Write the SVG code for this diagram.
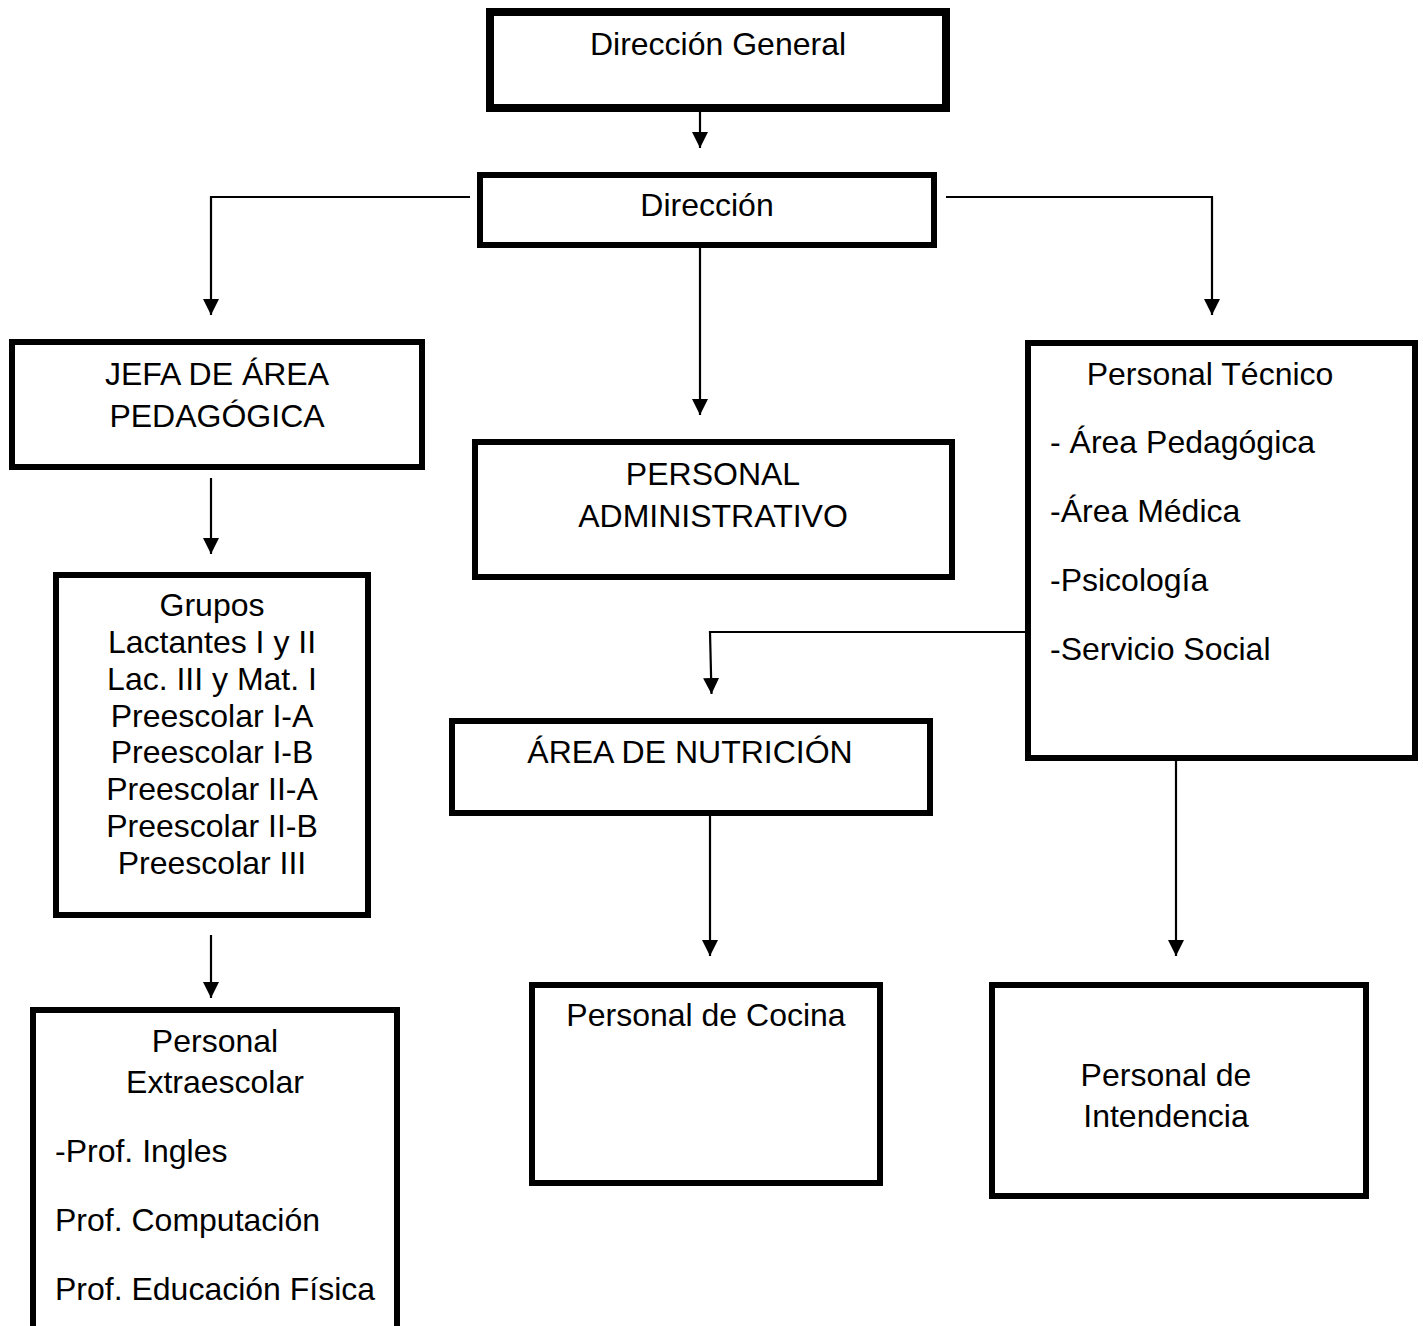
<svg xmlns="http://www.w3.org/2000/svg" width="1423" height="1326" viewBox="0 0 1423 1326">
<style>
.box{fill:#fff;stroke:#000;stroke-width:6}
.thick{stroke-width:8}
.t{font-family:"Liberation Sans",Arial,sans-serif;font-size:32px;fill:#000}
.c{text-anchor:middle}
.conn{fill:none;stroke:#000;stroke-width:2.2}
</style>
<defs>
<marker id="ah" markerUnits="userSpaceOnUse" markerWidth="16" markerHeight="16" refX="16" refY="8" orient="auto">
<path d="M0,0 L16,8 L0,16 z" fill="#000"/>
</marker>
</defs>
<rect width="1423" height="1326" fill="#fff"/>
<g id="connectors">
<path class="conn" d="M700,112 V148" marker-end="url(#ah)"/>
<path class="conn" d="M470,197 H211 V315" marker-end="url(#ah)"/>
<path class="conn" d="M946,197 H1212 V315" marker-end="url(#ah)"/>
<path class="conn" d="M700,248 V415" marker-end="url(#ah)"/>
<path class="conn" d="M211,478 V554" marker-end="url(#ah)"/>
<path class="conn" d="M211,935 V998" marker-end="url(#ah)"/>
<path class="conn" d="M1025,632 H710 L711.5,694" marker-end="url(#ah)"/>
<path class="conn" d="M710,816 V956" marker-end="url(#ah)"/>
<path class="conn" d="M1176,760 V956" marker-end="url(#ah)"/>
</g>
<g id="direccion-general">
<rect class="box thick" x="490" y="12" width="456" height="96"/>
<text class="t c" x="718" y="55">Dirección General</text>
</g>
<g id="direccion">
<rect class="box" x="480" y="175" width="454" height="70"/>
<text class="t c" x="707" y="216">Dirección</text>
</g>
<g id="jefa-area-pedagogica">
<rect class="box" x="12" y="342" width="410" height="125"/>
<text class="t c" x="217" y="385">JEFA DE ÁREA</text>
<text class="t c" x="217" y="427">PEDAGÓGICA</text>
</g>
<g id="personal-administrativo">
<rect class="box" x="475" y="442" width="477" height="135"/>
<text class="t c" x="713" y="485">PERSONAL</text>
<text class="t c" x="713" y="527">ADMINISTRATIVO</text>
</g>
<g id="personal-tecnico">
<rect class="box" x="1028" y="343" width="387" height="415"/>
<text class="t c" x="1210" y="385">Personal Técnico</text>
<text class="t" x="1050" y="453">- Área Pedagógica</text>
<text class="t" x="1050" y="522">-Área Médica</text>
<text class="t" x="1050" y="591">-Psicología</text>
<text class="t" x="1050" y="660">-Servicio Social</text>
</g>
<g id="grupos">
<rect class="box" x="56" y="575" width="312" height="340"/>
<text class="t c" x="212" y="616">Grupos</text>
<text class="t c" x="212" y="653">Lactantes I y II</text>
<text class="t c" x="212" y="690">Lac. III y Mat. I</text>
<text class="t c" x="212" y="727">Preescolar I-A</text>
<text class="t c" x="212" y="763">Preescolar I-B</text>
<text class="t c" x="212" y="800">Preescolar II-A</text>
<text class="t c" x="212" y="837">Preescolar II-B</text>
<text class="t c" x="212" y="874">Preescolar III</text>
</g>
<g id="area-nutricion">
<rect class="box" x="452" y="721" width="478" height="92"/>
<text class="t c" x="690" y="763">ÁREA DE NUTRICIÓN</text>
</g>
<g id="personal-cocina">
<rect class="box" x="532" y="985" width="348" height="198"/>
<text class="t c" x="706" y="1026">Personal de Cocina</text>
</g>
<g id="personal-intendencia">
<rect class="box" x="992" y="985" width="374" height="211"/>
<text class="t c" x="1166" y="1086">Personal de</text>
<text class="t c" x="1166" y="1127">Intendencia</text>
</g>
<g id="personal-extraescolar">
<rect class="box" x="33" y="1010" width="364" height="330"/>
<text class="t c" x="215" y="1052">Personal</text>
<text class="t c" x="215" y="1093">Extraescolar</text>
<text class="t" x="55" y="1162">-Prof. Ingles</text>
<text class="t" x="55" y="1231">Prof. Computación</text>
<text class="t" x="55" y="1300">Prof. Educación Física</text>
</g>
</svg>
